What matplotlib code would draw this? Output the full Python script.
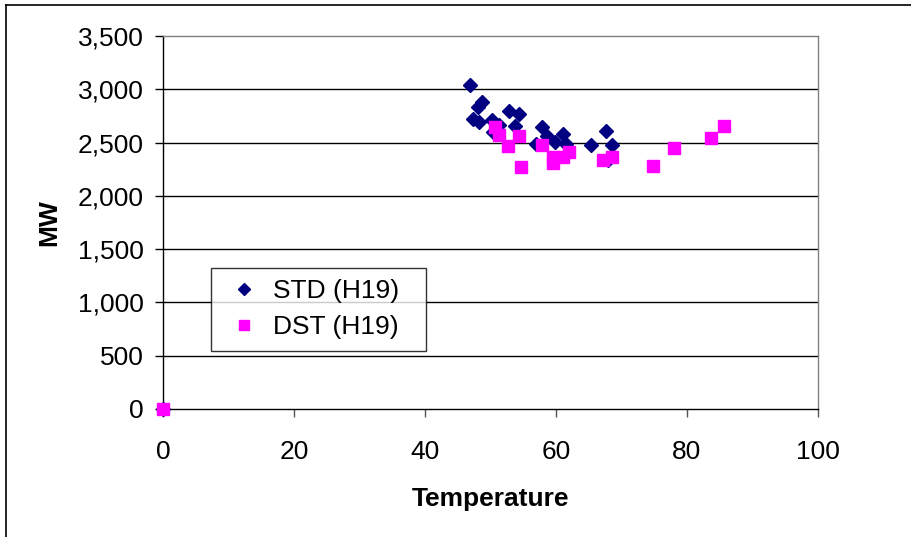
import matplotlib.pyplot as plt
from matplotlib.lines import Line2D
from matplotlib.ticker import FuncFormatter

plt.rcParams['font.family'] = ['Liberation Sans', 'DejaVu Sans']

# STD (H19) readings
std_temp = [0, 46.8, 48.7, 48.1, 47.3, 48.2, 52.8, 54.4, 50.3, 51.3, 53.7,
            50.4, 57.9, 57.0, 61.1, 59.8, 58.7, 61.5, 65.4, 67.6, 68.6, 68.0]
std_mw = [0, 3040, 2880, 2830, 2720, 2695, 2795, 2764, 2711, 2664, 2657,
          2595, 2648, 2490, 2580, 2507, 2560, 2490, 2476, 2608, 2476, 2340]

# DST (H19) readings
dst_temp = [0, 50.7, 51.3, 52.7, 54.4, 54.7, 57.9, 59.6, 59.6, 61.0, 62.0,
            67.1, 68.6, 74.8, 78.0, 83.6, 85.6]
dst_mw = [0, 2648, 2570, 2470, 2561, 2273, 2476, 2367, 2310, 2367, 2413,
          2341, 2367, 2282, 2451, 2539, 2657]

x_ticks = [0, 20, 40, 60, 80, 100]
y_ticks = [0, 500, 1000, 1500, 2000, 2500, 3000, 3500]

fig = plt.figure(figsize=(9.12, 5.37), dpi=100)
ax = fig.add_axes([163/912, 1 - 409/537, (818 - 163)/912, (409 - 36)/537])

ax.plot(std_temp, std_mw, 'D', color='#000080', markersize=7.6,
        linestyle='none', label='STD (H19)  ', clip_on=False, zorder=3)
ax.plot(dst_temp, dst_mw, 's', color='#FF00FF', markersize=8.8,
        linestyle='none', label='DST (H19)  ', clip_on=False, zorder=4)

ax.set_xlim(0, 100)
ax.set_ylim(0, 3500)
ax.set_xticks(x_ticks)
ax.set_yticks(y_ticks)
ax.yaxis.set_major_formatter(FuncFormatter(lambda v, p: f'{int(v):,}'))

# horizontal gridlines (not the top border)
for y in y_ticks[1:-1]:
    ax.axhline(y, color='black', linewidth=1, zorder=1)

for side in ['top', 'right']:
    ax.spines[side].set_color('#808080')
for side in ['left', 'bottom']:
    ax.spines[side].set_color('black')
for s in ax.spines.values():
    s.set_linewidth(1)

ax.tick_params(axis='x', direction='out', length=6, width=1, color='#555555',
               labelsize=19, pad=16)
ax.tick_params(axis='y', direction='out', length=6, width=1, color='black',
               labelsize=19, pad=8)

ax.set_xlabel('Temperature', fontsize=19, fontweight='bold', labelpad=17)
ax.set_ylabel('MW', fontsize=19, fontweight='bold', labelpad=12)

leg = ax.legend(loc='lower left', bbox_to_anchor=(0.074, 0.155),
                fontsize=19, frameon=True, fancybox=False, borderaxespad=0,
                handletextpad=0.3, handlelength=1.6, borderpad=0.45,
                labelspacing=0.45, markerscale=0.8)
leg.get_frame().set_edgecolor('black')
leg.get_frame().set_linewidth(1)

# outer chart border
fig.add_artist(Line2D([6/912, 6/912], [0, 1 - 5/537], color='black', linewidth=1.2))
fig.add_artist(Line2D([6/912, 1], [1 - 5/537, 1 - 5/537], color='black', linewidth=1.2))

fig.savefig('out.png', dpi=100)
